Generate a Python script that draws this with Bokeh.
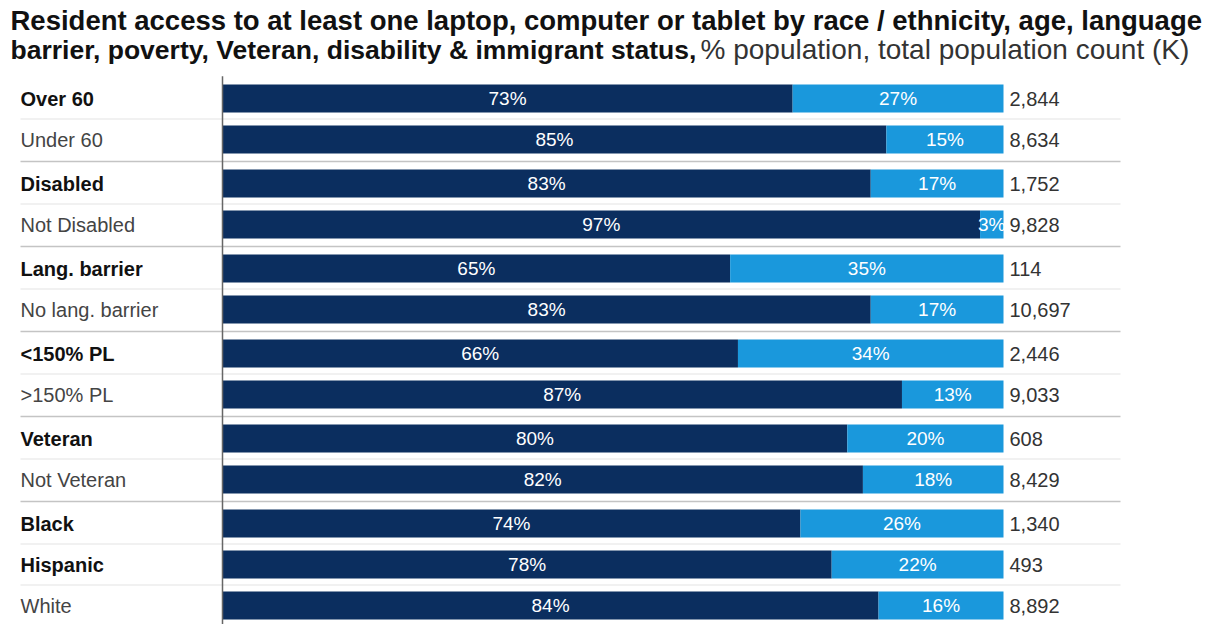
from bokeh.plotting import figure
from bokeh.models import ColumnDataSource, Range1d, Label
from bokeh.embed import file_html
from bokeh.resources import INLINE
from bokeh.core.properties import value

# ---------------- data ----------------
categories = ["Over 60", "Under 60", "Disabled", "Not Disabled", "Lang. barrier",
              "No lang. barrier", "<150% PL", ">150% PL", "Veteran", "Not Veteran",
              "Black", "Hispanic", "White"]
bold_rows = [True, False, True, False, True, False, True, False, True, False, True, True, False]
groups = [0, 0, 1, 1, 2, 2, 3, 3, 4, 4, 5, 5, 5]
with_access = [73, 85, 83, 97, 65, 83, 66, 87, 80, 82, 74, 78, 84]
without_access = [27, 15, 17, 3, 35, 17, 34, 13, 20, 18, 26, 22, 16]
population_k = ["2,844", "8,634", "1,752", "9,828", "114", "10,697", "2,446", "9,033",
                "608", "8,429", "1,340", "493", "8,892"]

# ---------------- layout ----------------
W, H = 1212, 624
PX_PER_PCT = 7.81
X0_PX = 222          # pixel position of 0%
ROW_PX = 41.0
TOP_ROW_PX = 98
GAP = 3.0 / ROW_PX

DARK = "#0b2e5f"
LIGHT = "#1a98dc"

ys = [i + GAP * g for i, g in enumerate(groups)]
rights2 = [a + b for a, b in zip(with_access, without_access)]

src = ColumnDataSource(dict(
    y=ys, cat=categories, a=with_access, b=without_access, r2=rights2,
    a_lbl=[f"{v}%" for v in with_access], b_lbl=[f"{v}%" for v in without_access],
    a_mid=[v / 2 for v in with_access], b_mid=[a + b / 2 for a, b in zip(with_access, without_access)],
    cnt=population_k,
    style=["bold" if b else "normal" for b in bold_rows],
    lcolor=["#111111" if b else "#444444" for b in bold_rows],
))

x_start = -X0_PX / PX_PER_PCT
x_end = (W - X0_PX) / PX_PER_PCT
y_top = -TOP_ROW_PX / ROW_PX
y_bot = (H - TOP_ROW_PX) / ROW_PX

p = figure(width=W, height=H, output_backend="svg", toolbar_location=None,
           x_range=Range1d(x_start, x_end), y_range=Range1d(y_bot, y_top),
           min_border=0, min_border_left=0, min_border_right=0,
           min_border_top=0, min_border_bottom=0)
p.axis.visible = False
p.grid.visible = False
p.outline_line_color = None
p.background_fill_color = "white"
p.border_fill_color = "white"

# separators
x_line_l = (20 - X0_PX) / PX_PER_PCT
x_line_r = (1120 - X0_PX) / PX_PER_PCT
grp_y, row_y = [], []
for i in range(len(ys) - 1):
    mid = (ys[i] + ys[i + 1]) / 2
    if groups[i] != groups[i + 1]:
        grp_y.append(mid)
    else:
        row_y.append(mid)
p.segment(x0=[x_line_l] * len(row_y), x1=[x_line_r] * len(row_y), y0=row_y, y1=row_y,
          line_color="#ececec", line_width=1.5)
p.segment(x0=[x_line_l] * len(grp_y), x1=[x_line_r] * len(grp_y), y0=grp_y, y1=grp_y,
          line_color="#c4c4c4", line_width=1.5)

# bars
BAR_H = 28 / ROW_PX
p.hbar(y="y", left=0, right="a", height=BAR_H, source=src, fill_color=DARK, line_color=None)
p.hbar(y="y", left="a", right="r2", height=BAR_H, source=src, fill_color=LIGHT, line_color=None)

# vertical axis line
p.segment(x0=[0], x1=[0], y0=[ys[0] - 0.54], y1=[y_bot], line_color="#666666", line_width=1.5)

FONT = value("Liberation Sans")
# in-bar labels
p.text(x="a_mid", y="y", text="a_lbl", source=src, text_color="white", text_font=FONT,
       text_font_size="19px", text_align="center", text_baseline="middle")
p.text(x="b_mid", y="y", text="b_lbl", source=src, text_color="white", text_font=FONT,
       text_font_size="19px", text_align="center", text_baseline="middle")
# counts
p.text(x="r2", y="y", text="cnt", source=src, text_color="#333333", text_font=FONT,
       text_font_size="20px", text_align="left", text_baseline="middle", x_offset=6)
# row labels
p.text(x=x_line_l, y="y", text="cat", source=src, text_color="lcolor", text_font=FONT,
       text_font_style="style", text_font_size="20px", text_align="left", text_baseline="middle")

# title
TITLE1 = "Resident access to at least one laptop, computer or tablet by race / ethnicity, age, language"
TITLE2_B = "barrier, poverty, Veteran, disability & immigrant status,"
TITLE2_N = "% population, total population count (K)"
p.add_layout(Label(x=10, y=H - 20, x_units="screen", y_units="screen", text=TITLE1,
                   text_font="Liberation Sans", text_font_style="bold", text_font_size="27.5px",
                   text_color="#111111", text_baseline="alphabetic"))
p.add_layout(Label(x=10, y=H - 49, x_units="screen", y_units="screen", text=TITLE2_B,
                   text_font="Liberation Sans", text_font_style="bold", text_font_size="26.5px",
                   text_color="#111111", text_baseline="alphabetic"))
p.add_layout(Label(x=700, y=H - 49, x_units="screen", y_units="screen", text=TITLE2_N,
                   text_font="Liberation Sans", text_font_style="normal", text_font_size="28px",
                   text_color="#333333", text_baseline="alphabetic"))

open("out.html", "w").write(file_html(p, INLINE))
